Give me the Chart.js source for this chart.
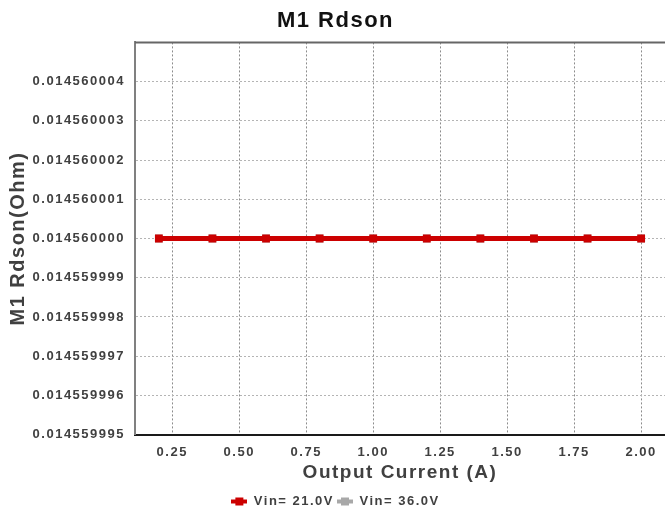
<!DOCTYPE html>
<html>
<head>
<meta charset="utf-8">
<title>M1 Rdson</title>
<script src="https://cdn.jsdelivr.net/npm/chart.js@4/dist/chart.umd.min.js"></script>
<style>
  html, body { margin: 0; padding: 0; background: #fff; overflow: hidden; }
  #chart { display: block; }
</style>
</head>
<body>
<canvas id="chart" width="665" height="513"></canvas>
<script>
// ----- Data -----
const currents    = [0.2, 0.4, 0.6, 0.8, 1.0, 1.2, 1.4, 1.6, 1.8, 2.0];
const rdsonVin21  = [0.01456, 0.01456, 0.01456, 0.01456, 0.01456, 0.01456, 0.01456, 0.01456, 0.01456, 0.01456];
const rdsonVin36  = [0.01456, 0.01456, 0.01456, 0.01456, 0.01456, 0.01456, 0.01456, 0.01456, 0.01456, 0.01456];

const xTicks      = [0.25, 0.5, 0.75, 1.0, 1.25, 1.5, 1.75, 2.0];
const xTickLabels = ['0.25', '0.50', '0.75', '1.00', '1.25', '1.50', '1.75', '2.00'];
const yTicks      = [0.014559995, 0.014559996, 0.014559997, 0.014559998, 0.014559999,
                     0.014560000, 0.014560001, 0.014560002, 0.014560003, 0.014560004];
const yTickLabels = ['0.014559995', '0.014559996', '0.014559997', '0.014559998', '0.014559999',
                     '0.014560000', '0.014560001', '0.014560002', '0.014560003', '0.014560004'];

const RED  = '#cc0000';
const GRAY = '#a8a8a8';
const FONT = '"Liberation Sans", Arial, sans-serif';

const toPoints = ys => ys.map((y, i) => ({ x: currents[i], y }));

// legend marker: short thick line with a square in the middle
function legendMark(color) {
  const c = document.createElement('canvas');
  c.width = 16; c.height = 10;
  const g = c.getContext('2d');
  g.fillStyle = color;
  g.fillRect(0, 3, 16, 4);
  g.fillRect(4, 1, 8, 8);
  return c;
}

// wide letter spacing like the original renderer; plot runs to the right edge; top frame line
const stylePlugin = {
  id: 'style',
  beforeLayout(chart) { chart.ctx.letterSpacing = '1.5px'; },
  afterLayout(chart) {
    const extra = chart.width - chart.chartArea.right;
    if (extra > 0) {
      const x = chart.scales.x;
      chart.chartArea.right += extra;
      chart.chartArea.width += extra;
      x.right += extra;
      x.width += extra;
      x.configure();
    }
  },
  beforeDraw(chart) { chart.ctx.letterSpacing = '1.5px'; },
  afterDatasetsDraw(chart) {
    const { ctx, chartArea } = chart;
    ctx.save();
    ctx.strokeStyle = '#666';
    ctx.lineWidth = 2;
    ctx.beginPath();
    ctx.moveTo(chartArea.left, chartArea.top);
    ctx.lineTo(chartArea.right, chartArea.top);
    ctx.stroke();
    ctx.restore();
  }
};

new Chart(document.getElementById('chart'), {
  type: 'line',
  data: {
    datasets: [
      {
        label: 'Vin= 21.0V',
        data: toPoints(rdsonVin21),
        borderColor: RED,
        backgroundColor: RED,
        borderWidth: 5,
        pointStyle: 'rect',
        pointRadius: 5.5,
        pointBorderWidth: 0,
        tension: 0
      },
      {
        label: 'Vin= 36.0V',
        data: toPoints(rdsonVin36),
        borderColor: GRAY,
        backgroundColor: GRAY,
        borderWidth: 5,
        pointStyle: 'rect',
        pointRadius: 5.5,
        pointBorderWidth: 0,
        tension: 0
      }
    ]
  },
  options: {
    responsive: false,
    animation: false,
    layout: { padding: { left: 6, right: 0, top: 0, bottom: -5 } },
    plugins: {
      title: {
        display: true,
        text: 'M1 Rdson',
        color: '#111',
        font: { family: FONT, size: 22, weight: 'bold' },
        padding: { top: 8, bottom: 8 }
      },
      legend: {
        position: 'bottom',
        labels: {
          color: '#404040',
          font: { family: FONT, size: 13, weight: 'bold' },
          usePointStyle: true,
          pointStyleWidth: 16,
          padding: 3,
          generateLabels: chart => chart.data.datasets.map((ds, i) => ({
            text: ds.label,
            pointStyle: legendMark(ds.borderColor),
            fillStyle: ds.borderColor,
            strokeStyle: ds.borderColor,
            lineWidth: 0,
            fontColor: '#404040',
            datasetIndex: i
          }))
        }
      },
      tooltip: { enabled: false }
    },
    scales: {
      x: {
        type: 'linear',
        min: 0.111,
        max: 2.089,
        afterBuildTicks: scale => { scale.ticks = xTicks.map(v => ({ value: v })); },
        ticks: {
          color: '#404040',
          font: { family: FONT, size: 13, weight: 'bold' },
          padding: 10,
          maxRotation: 0,
          callback: (v, i) => xTickLabels[i]
        },
        grid: { color: '#8c8c8c', lineWidth: 1, drawTicks: false },
        border: { display: true, color: '#1a1a1a', width: 2, dash: [2, 2] },
        title: {
          display: true,
          text: 'Output Current (A)',
          color: '#404040',
          font: { family: FONT, size: 19, weight: 'bold' },
          padding: { top: -9, bottom: 8 }
        }
      },
      y: {
        min: 0.014559995,
        max: 0.014560005,
        afterBuildTicks: scale => { scale.ticks = yTicks.map(v => ({ value: v })); },
        afterFit: scale => { scale.width = 129; },
        ticks: {
          color: '#404040',
          font: { family: FONT, size: 13, weight: 'bold' },
          padding: 10,
          callback: (v, i) => yTickLabels[i]
        },
        grid: { color: '#b4b4b4', lineWidth: 1, drawTicks: false },
        border: { display: true, color: '#808080', width: 2, dash: [2, 2] },
        title: {
          display: true,
          text: 'M1 Rdson(Ohm)',
          color: '#404040',
          font: { family: FONT, size: 20, weight: 'bold' },
          padding: { top: 0, bottom: 0 }
        }
      }
    }
  },
  plugins: [stylePlugin]
});
</script>
</body>
</html>
